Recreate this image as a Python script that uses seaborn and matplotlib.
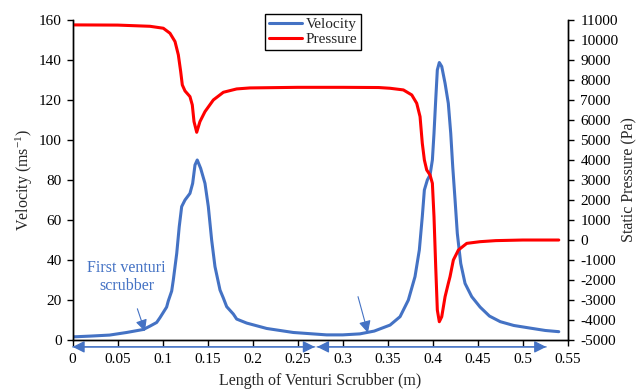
import matplotlib
matplotlib.use("Agg")
import matplotlib.pyplot as plt
from matplotlib.lines import Line2D
import seaborn as sns
import pandas as pd

# Axial position along the scrubber (m) and gas velocity (m/s)
vel_x = [0.000, 0.020, 0.041, 0.060, 0.0785, 0.086, 0.0933, 0.097, 0.1044, 0.1062,
         0.110, 0.1118, 0.1156, 0.1184, 0.1211, 0.1248, 0.1303, 0.1333, 0.1359, 0.1384,
         0.1422, 0.147, 0.1507, 0.1544, 0.1581, 0.1637, 0.1674, 0.1711, 0.1785, 0.1822,
         0.1933, 0.2156, 0.245, 0.282, 0.300, 0.319, 0.335, 0.3526, 0.3637, 0.3729,
         0.3803, 0.3851, 0.3884, 0.3907, 0.394, 0.397, 0.3996, 0.4014, 0.4033, 0.4051,
         0.4073, 0.410, 0.4137, 0.4173, 0.420, 0.4222, 0.4248, 0.4273, 0.4311, 0.4359,
         0.4433, 0.4526, 0.463, 0.475, 0.490, 0.508, 0.525, 0.540]
vel_y = [1.6, 2.0, 2.5, 3.8, 5.3, 7.0, 8.8, 11.2, 16.5, 19.5,
         24.5, 30.0, 43.3, 56.7, 66.7, 70.0, 73.3, 78.3, 87.5, 90.0,
         85.8, 78.3, 66.7, 50.0, 36.7, 25.0, 21.0, 16.7, 13.0, 10.5,
         8.5, 5.8, 3.8, 2.6, 2.6, 3.1, 4.5, 7.5, 11.7, 20.0,
         31.7, 45.0, 61.7, 75.0, 80.0, 82.5, 90.0, 103.3, 120.0, 135.0,
         138.7, 136.7, 128.3, 118.3, 103.3, 86.7, 70.0, 53.3, 38.3, 28.3,
         21.7, 16.5, 12.0, 9.2, 7.3, 6.0, 4.8, 4.2]

# Axial position (m) and static pressure (Pa)
pres_x = [0.000, 0.050, 0.0859, 0.1007, 0.1081, 0.1137, 0.1174, 0.120, 0.1218, 0.1248,
          0.1303, 0.1329, 0.1348, 0.1378, 0.1414, 0.147, 0.1563, 0.1674, 0.1822, 0.197,
          0.250, 0.300, 0.340, 0.3526, 0.3674, 0.3767, 0.3822, 0.3859, 0.3884, 0.3907,
          0.3933, 0.397, 0.3996, 0.4014, 0.4033, 0.4051, 0.4073, 0.410, 0.4137, 0.4173,
          0.4192, 0.4229, 0.4285, 0.4378, 0.4526, 0.470, 0.500, 0.540]
pres_y = [10750, 10740, 10680, 10583, 10333, 9917, 9250, 8417, 7750, 7450,
          7167, 6750, 5917, 5383, 5917, 6417, 7000, 7383, 7550, 7600,
          7630, 7630, 7620, 7583, 7500, 7250, 6833, 6167, 4833, 4000,
          3500, 3250, 2833, 1167, -1333, -3500, -4083, -3833, -2833, -2167,
          -1833, -1000, -500, -167, -83, -30, 0, 0]

x_ticks = [0, 0.05, 0.1, 0.15, 0.2, 0.25, 0.3, 0.35, 0.4, 0.45, 0.5, 0.55]
x_tick_labels = ["0", "0.05", "0.1", "0.15", "0.2", "0.25", "0.3", "0.35",
                 "0.4", "0.45", "0.5", "0.55"]
vel_ticks = list(range(0, 161, 20))
pres_ticks = list(range(-5000, 11001, 1000))
pres_tick_labels = [str(v) for v in pres_ticks]

# Extent of each venturi section drawn below the axis (m)
section_spans = [(0.0, 0.269), (0.2715, 0.526)]

BLUE = "#4472C4"
RED = "#FF0000"

sns.set_theme(style="white")
plt.rcParams["font.family"] = ["Liberation Serif", "DejaVu Serif"]
plt.rcParams["mathtext.fontset"] = "custom"
plt.rcParams["mathtext.rm"] = "Liberation Serif"
plt.rcParams["mathtext.it"] = "Liberation Serif:italic"
plt.rcParams["axes.unicode_minus"] = False

fig = plt.figure(figsize=(6.43, 3.90), dpi=100)
ax = fig.add_axes([0.113, 0.128, 0.770, 0.821])
ax2 = ax.twinx()

vel_df = pd.DataFrame({"x": vel_x, "v": vel_y})
pres_df = pd.DataFrame({"x": pres_x, "p": pres_y})

sns.lineplot(data=vel_df, x="x", y="v", ax=ax, color=BLUE, linewidth=2.2,
             legend=False)
sns.lineplot(data=pres_df, x="x", y="p", ax=ax2, color=RED, linewidth=2.2,
             legend=False)
for a in (ax, ax2):
    for ln in a.get_lines():
        ln.set_solid_joinstyle("round")
        ln.set_solid_capstyle("round")

ax.set_xlim(0, 0.55)
ax.set_ylim(0, 160)
ax2.set_ylim(-5000, 11000)

ax.set_xticks(x_ticks)
ax.set_xticklabels(x_tick_labels)
ax.set_yticks(vel_ticks)
ax.set_yticklabels([str(v) for v in vel_ticks])
ax2.set_yticks(pres_ticks)
ax2.set_yticklabels(pres_tick_labels)

for a in (ax, ax2):
    for side in ("left", "right", "bottom"):
        a.spines[side].set_visible(True)
        a.spines[side].set_color("black")
        a.spines[side].set_linewidth(1.0)
    a.spines["top"].set_visible(False)

ax.tick_params(axis="x", direction="out", length=4, width=1, colors="black",
               labelsize=11, pad=5, bottom=True)
ax.tick_params(axis="y", direction="out", length=4, width=1, colors="black",
               labelsize=11, pad=4, left=True)
ax2.tick_params(axis="y", direction="out", length=4, width=1, colors="black",
                labelsize=11, pad=5, right=True)

ax.set_xlabel("Length of Venturi Scrubber (m)", fontsize=11.5, labelpad=5)
ax.set_ylabel("Velocity (ms$^{-1}$)", fontsize=11.5, labelpad=2.5)
ax2.set_ylabel("Static Pressure (Pa)", fontsize=11.5, labelpad=2)

# Section spans with arrowheads just below the x axis
for x0, x1 in section_spans:
    for a_from, a_to in ((x1, x0), (x0, x1)):
        ax.annotate("", xy=(a_to, -3.4), xytext=(a_from, -3.4), xycoords="data",
                    annotation_clip=False,
                    arrowprops=dict(arrowstyle="-|>,head_length=0.6,head_width=0.3",
                                    color=BLUE, lw=0.9, shrinkA=0, shrinkB=0))

ax.annotate("First venturi\nscrubber", xy=(0.0803, 4.4), xytext=(0.060, 31.5),
            ha="center", va="center", color=BLUE, fontsize=11.5,
            linespacing=1.1,
            arrowprops=dict(arrowstyle="-|>,head_length=0.6,head_width=0.3",
                            color=BLUE, lw=0.8, shrinkA=9, shrinkB=0))
ax.annotate("", xy=(0.328, 3.6), xytext=(0.317, 21.7),
            arrowprops=dict(arrowstyle="-|>,head_length=0.6,head_width=0.3",
                            color=BLUE, lw=0.8, shrinkA=0, shrinkB=0))

handles = [Line2D([], [], color=BLUE, linewidth=2.2),
           Line2D([], [], color=RED, linewidth=2.2)]
leg = fig.legend(handles, ["Velocity", "Pressure"], loc="upper left",
                 bbox_to_anchor=(0.412, 0.965), fontsize=11, frameon=True,
                 fancybox=False, framealpha=1, edgecolor="black",
                 borderpad=0.25, handlelength=2.2, handletextpad=0.2,
                 labelspacing=0.1, borderaxespad=0)
leg.get_frame().set_linewidth(1.0)

fig.savefig("out.png", dpi=100)
